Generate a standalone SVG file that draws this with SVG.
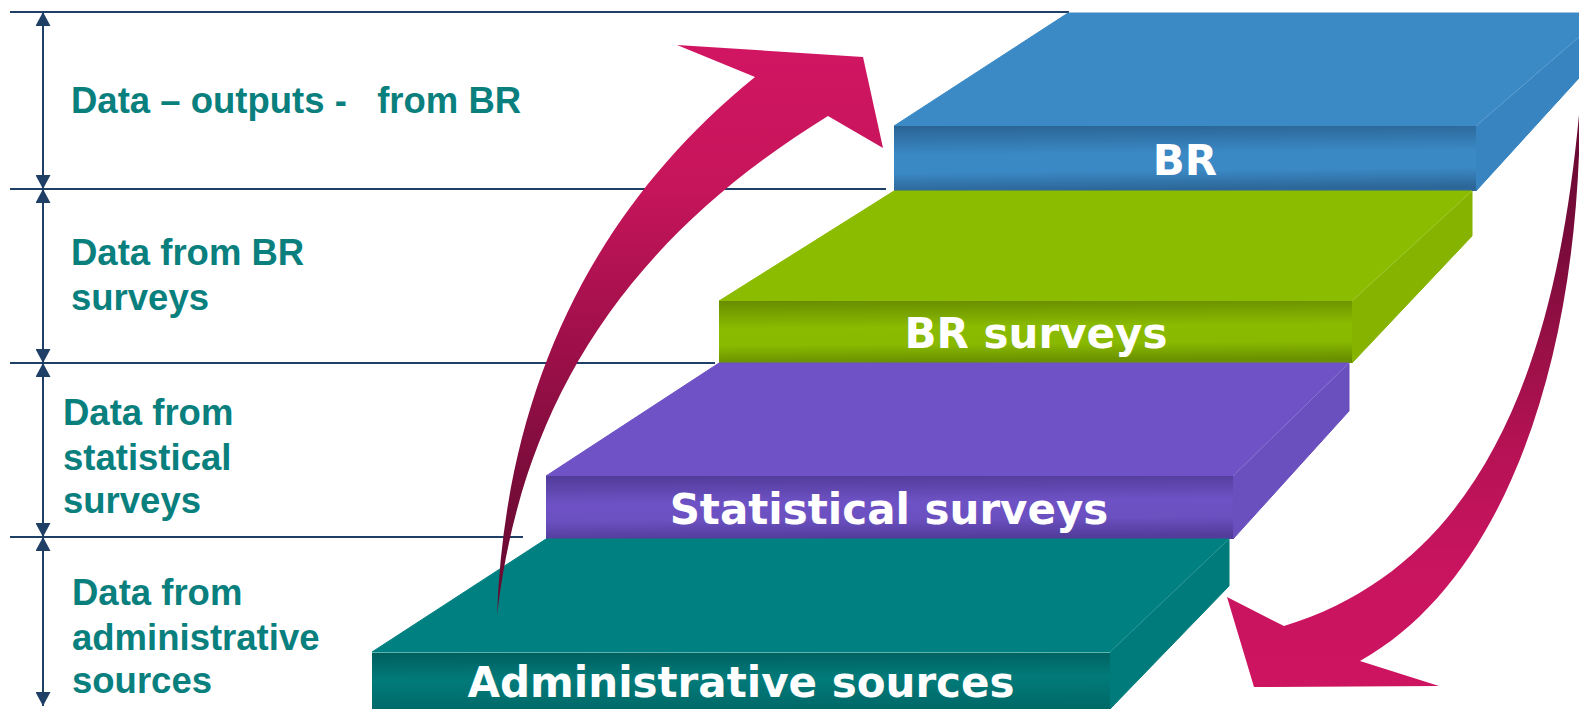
<svg xmlns="http://www.w3.org/2000/svg" width="1579" height="709" viewBox="0 0 1579 709">
  <style>
    .guide { stroke: #1f3f66; stroke-width: 2.2; fill: none; }
    .dim { stroke: #1f3f66; stroke-width: 2; fill: none; marker-start: url(#dimHead); marker-end: url(#dimHead); }
    .side-label { font-family: "Liberation Sans", Arial, sans-serif; font-weight: bold; font-size: 36.5px; fill: #0a807e; }
    .slab-label { font-family: "DejaVu Sans", Verdana, sans-serif; font-weight: bold; font-size: 42px; fill: #ffffff; text-anchor: middle; }
    .face { stroke-width: 1; stroke-linejoin: round; }
    .ridge { stroke: #ffffff; stroke-opacity: 0.18; stroke-width: 1; }
  </style>
  <defs>
    <marker id="dimHead" markerUnits="userSpaceOnUse" viewBox="0 0 14 15" refX="14" refY="7.5" markerWidth="14" markerHeight="15" orient="auto-start-reverse">
      <path d="M0,0 L14,7.5 L0,15 Z" fill="#1f3f66"/>
    </marker>
    <linearGradient id="frontBlue" x1="0" y1="0" x2="0.08" y2="1">
      <stop offset="0" stop-color="#2b6494"/>
      <stop offset="0.45" stop-color="#3a89c5"/>
      <stop offset="0.72" stop-color="#3a88c4"/>
      <stop offset="1" stop-color="#2d6798"/>
    </linearGradient>
    <linearGradient id="frontGreen" x1="0" y1="0" x2="0.08" y2="1">
      <stop offset="0" stop-color="#688d00"/>
      <stop offset="0.45" stop-color="#8bbb00"/>
      <stop offset="0.72" stop-color="#89b900"/>
      <stop offset="1" stop-color="#6a9000"/>
    </linearGradient>
    <linearGradient id="frontPurple" x1="0" y1="0" x2="0.08" y2="1">
      <stop offset="0" stop-color="#513b98"/>
      <stop offset="0.45" stop-color="#6e52c5"/>
      <stop offset="0.72" stop-color="#6b50c0"/>
      <stop offset="1" stop-color="#533d9c"/>
    </linearGradient>
    <linearGradient id="frontTeal" x1="0" y1="0" x2="0.08" y2="1">
      <stop offset="0" stop-color="#005e5d"/>
      <stop offset="0.5" stop-color="#017b7a"/>
      <stop offset="1" stop-color="#006a69"/>
    </linearGradient>
    <linearGradient id="arrowUp" gradientUnits="userSpaceOnUse" x1="0" y1="45" x2="0" y2="615">
      <stop offset="0" stop-color="#d11562"/>
      <stop offset="0.25" stop-color="#c6155b"/>
      <stop offset="0.55" stop-color="#9b0f48"/>
      <stop offset="0.77" stop-color="#790c3a"/>
      <stop offset="1" stop-color="#640a2f"/>
    </linearGradient>
    <linearGradient id="arrowDown" gradientUnits="userSpaceOnUse" x1="0" y1="100" x2="0" y2="690">
      <stop offset="0" stop-color="#650a30"/>
      <stop offset="0.25" stop-color="#7a0b3a"/>
      <stop offset="0.45" stop-color="#9e1049"/>
      <stop offset="0.6" stop-color="#b71255"/>
      <stop offset="0.8" stop-color="#c91460"/>
      <stop offset="1" stop-color="#cd1460"/>
    </linearGradient>
  </defs>

  <rect x="0" y="0" width="1579" height="709" fill="#ffffff"/>

  <g id="guide-lines">
    <line class="guide" x1="10" y1="12" x2="1069" y2="12"/>
    <line class="guide" x1="10" y1="189" x2="886" y2="189"/>
    <line class="guide" x1="10" y1="363" x2="715" y2="363"/>
    <line class="guide" x1="10" y1="537" x2="523" y2="537"/>
  </g>

  <g id="slab-br">
    <polygon class="face" points="1476,126 1579,37 1579,78 1476,191" fill="#3784c0" stroke="#3784c0"/>
    <polygon class="face" points="894,126 1068,13 1579,13 1579,37 1476,126" fill="#3b8ac6" stroke="#3b8ac6"/>
    <line class="ridge" x1="1476" y1="126" x2="1579" y2="37"/>
    <rect x="894" y="126" width="582" height="65" fill="url(#frontBlue)"/>
    <text class="slab-label" x="1185" y="175">BR</text>
  </g>

  <g id="slab-br-surveys">
    <polygon class="face" points="1352,301 1472,191 1472,236 1352,363" fill="#86b300" stroke="#86b300"/>
    <polygon class="face" points="719,301 894,191 1472,191 1352,301" fill="#8cbc00" stroke="#8cbc00"/>
    <line class="ridge" x1="1352" y1="301" x2="1472" y2="191"/>
    <rect x="719" y="301" width="633" height="62" fill="url(#frontGreen)"/>
    <text class="slab-label" x="1036" y="348">BR surveys</text>
  </g>

  <g id="slab-statistical">
    <polygon class="face" points="1233,476 1349,363 1349,411 1233,539" fill="#6a4fbe" stroke="#6a4fbe"/>
    <polygon class="face" points="546,476 719,363 1349,363 1233,476" fill="#6f52c6" stroke="#6f52c6"/>
    <line class="ridge" x1="1233" y1="476" x2="1349" y2="363"/>
    <rect x="546" y="476" width="687" height="63" fill="url(#frontPurple)"/>
    <text class="slab-label" x="889" y="524">Statistical surveys</text>
  </g>

  <g id="slab-admin">
    <polygon class="face" points="1110,652 1229,539 1229,586 1110,709" fill="#007b7b" stroke="#007b7b"/>
    <polygon class="face" points="372,652 546,539 1229,539 1110,652" fill="#008080" stroke="#008080"/>
    <line class="ridge" x1="1110" y1="652" x2="1229" y2="539"/>
    <rect x="372" y="652" width="738" height="57" fill="url(#frontTeal)"/>
    <line x1="372" y1="652.5" x2="1110" y2="652.5" stroke="#5fb4b2" stroke-width="1"/>
    <text class="slab-label" x="741" y="697">Administrative sources</text>
  </g>

  <g id="label-outputs">
    <text class="side-label" x="71" y="113" xml:space="preserve">Data – outputs -   from BR</text>
  </g>
  <g id="label-br-surveys">
    <text class="side-label" x="71" y="265">Data from BR</text>
    <text class="side-label" x="71" y="310">surveys</text>
  </g>
  <g id="label-statistical">
    <text class="side-label" x="63" y="425">Data from</text>
    <text class="side-label" x="63" y="470">statistical</text>
    <text class="side-label" x="63" y="513">surveys</text>
  </g>
  <g id="label-admin">
    <text class="side-label" x="72" y="605">Data from</text>
    <text class="side-label" x="72" y="650">administrative</text>
    <text class="side-label" x="72" y="693">sources</text>
  </g>

  <g id="connectors">
    <line class="dim" x1="43" y1="12" x2="43" y2="189"/>
    <line class="dim" x1="43" y1="189" x2="43" y2="363"/>
    <line class="dim" x1="43" y1="363" x2="43" y2="537"/>
    <line class="dim" x1="43" y1="537" x2="43" y2="706"/>
    <path id="arrow-up" d="M497,615 C505,400 585,215 755,77 L677,45 L863,57 L883,148 L828,116 C610,250 520,420 497,615 Z" fill="url(#arrowUp)"/>
    <path id="arrow-down" d="M1580,104 C1580,360 1505,580 1360,661 L1439,686 L1254,687 L1227,597 L1284,626 C1500,560 1560,330 1580,104 Z" fill="url(#arrowDown)"/>
  </g>
</svg>
